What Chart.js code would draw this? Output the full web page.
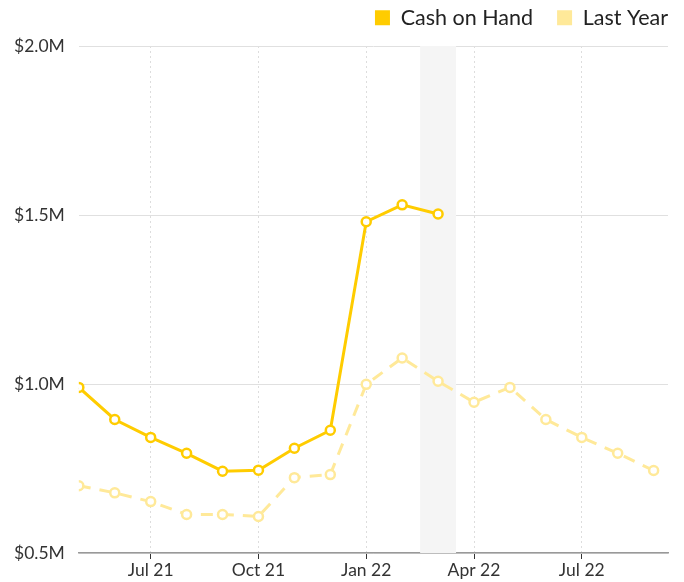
<!DOCTYPE html>
<html>
<head>
<meta charset="utf-8">
<script src="https://cdn.jsdelivr.net/npm/chart.js@4/dist/chart.umd.min.js"></script>
<style>
  html, body { margin: 0; padding: 0; background: #fff; }
  #wrap { width: 684px; height: 582px; }
</style>
</head>
<body>
<div id="wrap"><canvas id="myChart" width="684" height="582"></canvas></div>
<script>
// months from May 21 to Sep 22
var months = ['May 21','Jun 21','Jul 21','Aug 21','Sep 21','Oct 21','Nov 21','Dec 21',
              'Jan 22','Feb 22','Mar 22','Apr 22','May 22','Jun 22','Jul 22','Aug 22','Sep 22'];
var cashOnHand = [0.99, 0.895, 0.842, 0.795, 0.742, 0.745, 0.81, 0.863, 1.48, 1.53, 1.503];
var lastYear = [0.699, 0.678, 0.652, 0.614, 0.614, 0.608, 0.723, 0.732, 0.999, 1.077, 1.008,
                0.946, 0.99, 0.895, 0.842, 0.795, 0.744];
var tickMonths = [2, 5, 8, 11, 14];
var currentMonth = 10;

function toPoints(arr) {
  return arr.map(function (v, i) { return { x: i, y: v * 1000000 }; });
}

var fontFam = "Lato, 'Open Sans', sans-serif";

var bandPlugin = {
  id: 'band',
  afterLayout: function (chart) {
    // move the legend to the top right corner of the canvas
    chart.legend.left += 24;
    chart.legend.right += 24;
    chart.legend.top -= 17;
    chart.legend.bottom -= 17;
  },
  beforeDatasetsDraw: function (chart) {
    var ctx = chart.ctx, x = chart.scales.x, a = chart.chartArea;
    var l = x.getPixelForValue(currentMonth - 0.5);
    var r = x.getPixelForValue(currentMonth + 0.5);
    ctx.save();
    ctx.fillStyle = '#f5f5f5';
    ctx.fillRect(l, a.top, r - l, a.bottom - a.top);
    ctx.restore();
  }
};

var ctx = document.getElementById('myChart').getContext('2d');
var myChart = new Chart(ctx, {
  type: 'line',
  data: {
    datasets: [{
      label: 'Cash on Hand',
      data: toPoints(cashOnHand),
      borderColor: '#ffcc00',
      backgroundColor: '#ffcc00',
      borderWidth: 3,
      pointRadius: 4.5,
      pointBorderWidth: 2.5,
      pointBackgroundColor: '#fff',
      pointBorderColor: '#ffcc00',
      tension: 0
    }, {
      label: 'Last Year',
      data: toPoints(lastYear),
      borderColor: '#ffe999',
      backgroundColor: '#ffe999',
      borderWidth: 3,
      borderDash: [12, 9],
      pointRadius: 4.5,
      pointBorderWidth: 2.5,
      pointBackgroundColor: '#fff',
      pointBorderColor: '#ffe999',
      tension: 0
    }]
  },
  options: {
    responsive: false,
    animation: false,
    layout: { padding: { left: 0, right: 16, top: 0, bottom: 0 } },
    plugins: {
      tooltip: { enabled: false },
      legend: {
        position: 'top',
        align: 'end',
        maxHeight: 46,
        labels: {
          boxWidth: 15,
          boxHeight: 15,
          padding: 24,
          color: '#222',
          font: { family: fontFam, size: 21.5 },
          generateLabels: function (chart) {
            return chart.data.datasets.map(function (ds, i) {
              return {
                text: ds.label,
                fillStyle: ds.borderColor,
                strokeStyle: ds.borderColor,
                lineWidth: 0,
                datasetIndex: i,
                fontColor: '#222'
              };
            });
          }
        }
      }
    },
    scales: {
      x: {
        type: 'linear',
        min: 0,
        max: 16.4,
        afterBuildTicks: function (axis) {
          axis.ticks = tickMonths.map(function (v) { return { value: v }; });
        },
        ticks: {
          autoSkip: false,
          maxRotation: 0,
          color: '#333',
          padding: 1,
          font: { family: fontFam, size: 17.5 },
          callback: function (v) { return months[v]; }
        },
        grid: {
          color: '#dddddd',
          lineWidth: 1,
          tickLength: 6,
          tickColor: '#333',
          drawTicks: true
        },
        border: { display: true, color: '#999', width: 1.5, dash: [2, 3] }
      },
      y: {
        min: 500000,
        max: 2000000,
        afterBuildTicks: function (axis) {
          axis.ticks = [500000, 1000000, 1500000, 2000000].map(function (v) { return { value: v }; });
        },
        ticks: {
          color: '#333',
          padding: 14,
          font: { family: fontFam, size: 17.5 },
          callback: function (v) { return '$' + (v / 1000000).toFixed(1) + 'M'; }
        },
        grid: { color: '#e0e0e0', lineWidth: 1, drawTicks: false },
        border: { display: false }
      }
    }
  },
  plugins: [bandPlugin]
});
</script>
</body>
</html>
